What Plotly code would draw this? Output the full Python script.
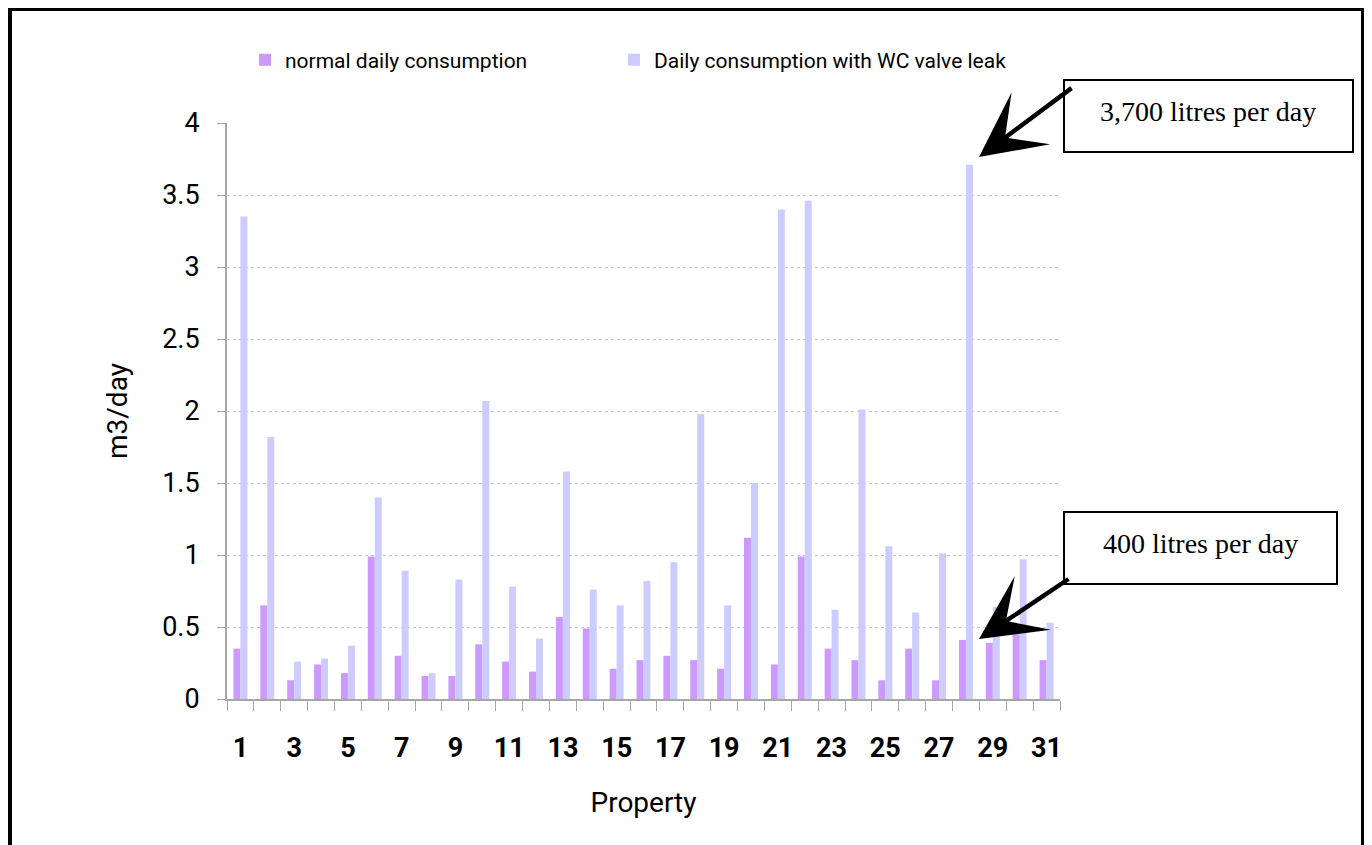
import plotly.graph_objects as go

properties = list(range(1, 32))
normal = [0.35, 0.65, 0.13, 0.24, 0.18, 0.99, 0.30, 0.16, 0.16, 0.38, 0.26, 0.19, 0.57, 0.49, 0.21,
          0.27, 0.30, 0.27, 0.21, 1.12, 0.24, 0.99, 0.35, 0.27, 0.13, 0.35, 0.13, 0.41, 0.39, 0.45, 0.27]
leak = [3.35, 1.82, 0.26, 0.28, 0.37, 1.40, 0.89, 0.18, 0.83, 2.07, 0.78, 0.42, 1.58, 0.76, 0.65,
        0.82, 0.95, 1.98, 0.65, 1.50, 3.40, 3.46, 0.62, 2.01, 1.06, 0.60, 1.01, 3.71, 0.64, 0.97, 0.53]
x_ticks = list(range(1, 32, 2))
y_ticks = [0, 0.5, 1, 1.5, 2, 2.5, 3, 3.5, 4]
y_ticktext = ["0", "0.5", "1", "1.5", "2", "2.5", "3", "3.5", "4"]

# page body has an 8px margin; figure is sized/shifted to compensate
OFF = 8
W, H = 1372 - OFF, 845 - OFF
L, R, T, B = 227, 1060, 123, 699   # plot area in screenshot pixels


def px(xp):
    return (xp - L) / (R - L)


def py(yp):
    return (B - yp) / (B - T)


fig = go.Figure()
fig.add_trace(go.Bar(x=properties, y=normal, name="normal daily consumption",
                     marker=dict(color="#CC99FF", line=dict(width=0)), legend="legend"))
fig.add_trace(go.Bar(x=properties, y=leak, name="Daily consumption with WC valve leak",
                     marker=dict(color="#CCCCFF", line=dict(width=0)), legend="legend2"))

legend_font = dict(family="Roboto", size=21, color="black")

fig.update_layout(
    width=W, height=H,
    margin=dict(l=L - OFF, r=W - (R - OFF), t=T - OFF, b=H - (B - OFF), pad=0),
    paper_bgcolor="white", plot_bgcolor="white",
    barmode="group", bargap=0.48, bargroupgap=0,
    font=dict(family="Roboto", color="black"),
    showlegend=True,
    legend=dict(orientation="h", x=px(245), xanchor="left", y=py(60), yanchor="middle",
                font=legend_font, bgcolor="rgba(0,0,0,0)"),
    legend2=dict(orientation="h", x=px(614), xanchor="left", y=py(60), yanchor="middle",
                 font=legend_font, bgcolor="rgba(0,0,0,0)"),
    xaxis=dict(
        range=[0.5, 31.5], tickmode="array", tickvals=x_ticks, ticktext=[str(v) for v in x_ticks],
        ticks="", showgrid=False, zeroline=False,
        showline=True, linecolor="#A6A6A6", linewidth=2,
        tickfont=dict(family="Roboto", size=27, color="black", weight="bold"),
        ticklabelstandoff=24,
        minor=dict(tick0=0.5, dtick=1, ticks="outside", ticklen=10, tickcolor="#A6A6A6",
                   tickwidth=1, showgrid=False),
        title=dict(text="Property", font=dict(family="Roboto", size=28, color="black"), standoff=29),
    ),
    yaxis=dict(
        range=[0, 4], tickmode="array", tickvals=y_ticks, ticktext=y_ticktext,
        ticks="outside", ticklen=8, tickcolor="#A6A6A6", tickwidth=1,
        showgrid=True, gridcolor="#C8C8C8", griddash="dot", gridwidth=1,
        zeroline=False, showline=True, linecolor="#A6A6A6", linewidth=2,
        tickfont=dict(family="Roboto", size=27, color="black"),
        ticklabelstandoff=12,
        title=dict(text="m3/day", font=dict(family="Roboto", size=28, color="black"), standoff=26),
    ),
)

shapes = [
    # outer frame
    dict(type="rect", xref="paper", yref="paper", x0=px(9), x1=px(1364), y0=py(880), y1=py(8),
         line=dict(color="black", width=6), fillcolor="rgba(0,0,0,0)", layer="above"),
    # text boxes
    dict(type="rect", xref="paper", yref="paper", x0=px(1064), x1=px(1353), y0=py(152), y1=py(80),
         line=dict(color="black", width=2), fillcolor="white", layer="above"),
    dict(type="rect", xref="paper", yref="paper", x0=px(1064), x1=px(1337), y0=py(584), y1=py(512),
         line=dict(color="black", width=2), fillcolor="white", layer="above"),
]
fig.update_layout(shapes=shapes)

annotations = [
    dict(xref="paper", yref="paper", x=px(1208), y=py(112), text="3,700 litres per day",
         showarrow=False, xanchor="center", yanchor="middle",
         font=dict(family="Liberation Serif", size=28, color="black")),
    dict(xref="paper", yref="paper", x=px(1200), y=py(543), text="400 litres per day",
         showarrow=False, xanchor="center", yanchor="middle",
         font=dict(family="Liberation Serif", size=28, color="black")),
    dict(xref="paper", yref="paper", x=px(979), y=py(157), text="", showarrow=True,
         axref="pixel", ayref="pixel", ax=94, ay=-70, arrowhead=3, arrowsize=2.4,
         arrowwidth=4.5, arrowcolor="black", standoff=0),
    dict(xref="paper", yref="paper", x=px(979), y=py(639), text="", showarrow=True,
         axref="pixel", ayref="pixel", ax=91, ay=-61, arrowhead=3, arrowsize=2.4,
         arrowwidth=4.5, arrowcolor="black", standoff=0),
]
fig.update_layout(annotations=annotations)

fig.write_html("out.html")
